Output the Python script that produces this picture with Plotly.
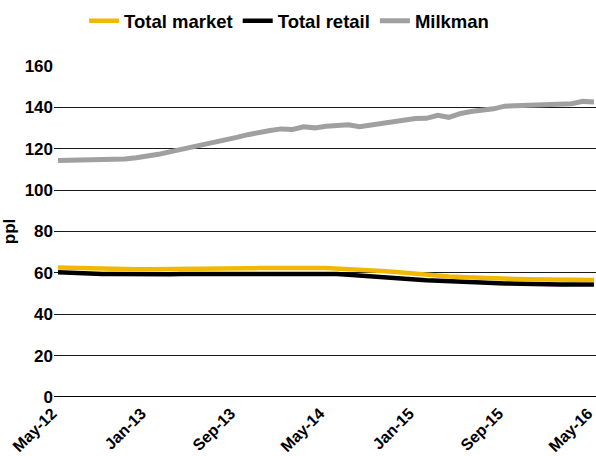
import plotly.graph_objects as go

# Monthly price per litre, May 2012 to May 2016
months = [
    "May-12", "Jun-12", "Jul-12", "Aug-12", "Sep-12", "Oct-12", "Nov-12", "Dec-12",
    "Jan-13", "Feb-13", "Mar-13", "Apr-13", "May-13", "Jun-13", "Jul-13", "Aug-13",
    "Sep-13", "Oct-13", "Nov-13", "Dec-13", "Jan-14", "Feb-14", "Mar-14", "Apr-14",
    "May-14", "Jun-14", "Jul-14", "Aug-14", "Sep-14", "Oct-14", "Nov-14", "Dec-14",
    "Jan-15", "Feb-15", "Mar-15", "Apr-15", "May-15", "Jun-15", "Jul-15", "Aug-15",
    "Sep-15", "Oct-15", "Nov-15", "Dec-15", "Jan-16", "Feb-16", "Mar-16", "Apr-16",
    "May-16",
]

total_market = [
    62.6, 62.4, 62.2, 62.0, 61.9, 61.8, 61.7, 61.7, 61.7, 61.7, 61.7, 61.8, 61.8,
    61.9, 62.0, 62.0, 62.1, 62.2, 62.3, 62.4, 62.5, 62.5, 62.5, 62.4, 62.3, 62.1,
    61.8, 61.5, 61.2, 60.9, 60.5, 60.0, 59.3, 58.8, 58.5, 58.3, 58.0, 57.7, 57.5,
    57.3, 57.1, 57.0, 56.9, 56.8, 56.7, 56.6, 56.6, 56.5, 56.5,
]

total_retail = [
    60.3, 60.0, 59.8, 59.6, 59.5, 59.4, 59.3, 59.3, 59.3, 59.3, 59.3, 59.4, 59.4,
    59.5, 59.6, 59.6, 59.7, 59.8, 59.8, 59.9, 59.9, 59.9, 59.9, 59.8, 59.6, 59.4,
    59.1, 58.8, 58.5, 58.1, 57.7, 57.2, 56.8, 56.4, 56.1, 55.9, 55.7, 55.5, 55.3,
    55.1, 54.9, 54.7, 54.6, 54.5, 54.4, 54.4, 54.4, 54.4, 54.4,
]

milkman = [
    114.3, 114.4, 114.5, 114.6, 114.7, 114.8, 115.1, 115.7, 116.4, 117.3, 118.5,
    119.6, 120.6, 121.9, 122.9, 124.0, 125.5, 126.8, 128.0, 128.8, 129.6, 129.3,
    130.6, 130.1, 130.9, 131.5, 131.6, 130.6, 131.3, 132.0, 132.9, 134.0, 134.6,
    134.7, 136.2, 135.2, 137.0, 138.0, 138.6, 139.3, 140.6, 140.9, 141.0, 141.2,
    141.4, 141.6, 141.8, 142.9, 142.6,
]

tick_labels = ["May-12", "Jan-13", "Sep-13", "May-14", "Jan-15", "Sep-15", "May-16"]
y_ticks = [0, 20, 40, 60, 80, 100, 120, 140, 160]

font_family = "Liberation Sans, Arial, sans-serif"

fig = go.Figure()
fig.add_trace(go.Scatter(
    x=months, y=total_retail, name="<b>Total retail</b>", mode="lines",
    line=dict(color="#000000", width=4.5), legendrank=2,
))
fig.add_trace(go.Scatter(
    x=months, y=total_market, name="<b>Total market</b>", mode="lines",
    line=dict(color="#F2B800", width=4.5), legendrank=1,
))
fig.add_trace(go.Scatter(
    x=months, y=milkman, name="<b>Milkman</b>", mode="lines",
    line=dict(color="#A0A0A0", width=5), legendrank=3,
))

fig.update_layout(
    width=596, height=456,
    margin=dict(l=54, r=0, t=66, b=59),
    paper_bgcolor="white", plot_bgcolor="white",
    font=dict(family=font_family, size=17, color="#000000"),
    showlegend=True,
    legend=dict(
        orientation="h", xref="container", x=0.485, xanchor="center",
        y=0.995, yanchor="top", yref="container",
        font=dict(size=18.5, family=font_family),
        itemwidth=30, tracegroupgap=0, traceorder="normal",
    ),
    xaxis=dict(
        type="category", range=[-0.36, 48.18], automargin=False,
        tickmode="array", tickvals=tick_labels, ticktext=[f"<b>{t}</b>" for t in tick_labels],
        tickangle=-45, showgrid=False, showline=False, zeroline=False,
        ticks="", tickfont=dict(size=16), ticklabelshift=-6, ticklabelstandoff=3,
    ),
    yaxis=dict(
        range=[0, 160], tickvals=y_ticks, ticktext=[f"<b>{v}</b>" for v in y_ticks],
        automargin=False,
        showgrid=True, gridcolor="#1a1a1a", gridwidth=1,
        zeroline=False, showline=False, ticks="", tickfont=dict(size=17),
        title=dict(text="<b>ppl</b>", font=dict(size=17), standoff=4),
    ),
    shapes=[dict(
        type="line", xref="paper", yref="y", x0=0, x1=1, y0=0, y1=0,
        line=dict(color="#000000", width=2),
    )],
)

fig.write_html("out.html")
